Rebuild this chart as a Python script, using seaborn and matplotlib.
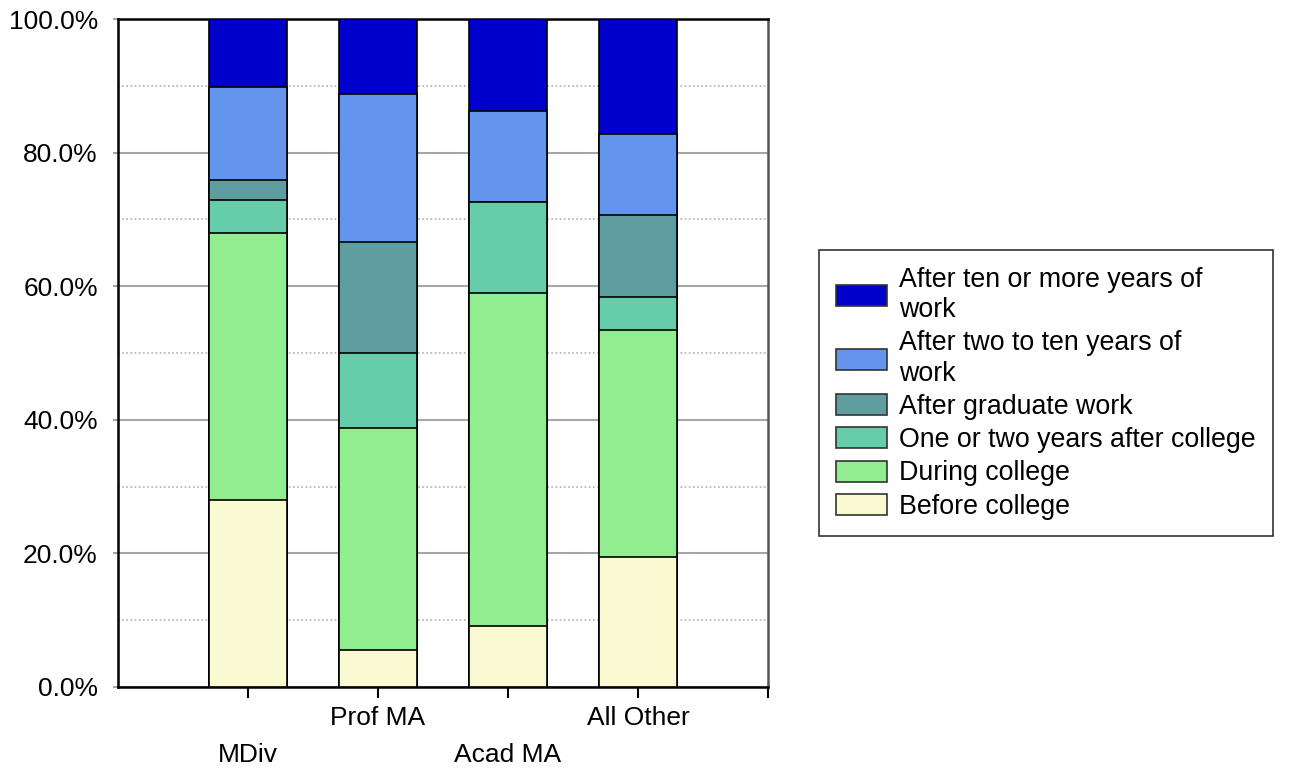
import pandas as pd
import matplotlib
matplotlib.use('Agg')
import matplotlib.pyplot as plt
import seaborn as sns
from matplotlib.patches import Patch
from matplotlib.ticker import MultipleLocator, PercentFormatter
from matplotlib.transforms import ScaledTranslation


# =========================================================
# DATA
# =========================================================

programs = ['MDiv', 'Prof MA', 'Acad MA', 'All Other']

before_college = [28.0, 5.5, 9.1, 19.5]
during_college = [40.0, 33.3, 49.9, 33.9]
one_two_after = [4.9, 11.2, 13.6, 5.0]
after_graduate = [3.0, 16.6, 0.0, 12.3]
two_to_ten = [13.9, 22.2, 13.6, 12.1]
ten_or_more = [10.2, 11.2, 13.8, 17.2]

segment_names = [
    'Before college',
    'During college',
    'One or two years after college',
    'After graduate work',
    'After two to ten years of\nwork',
    'After ten or more years of\nwork',
]

segment_values = [
    before_college,
    during_college,
    one_two_after,
    after_graduate,
    two_to_ten,
    ten_or_more,
]

segment_colors = [
    '#FAFAD2',
    '#90EE90',
    '#66CDAA',
    '#5F9EA0',
    '#6495ED',
    '#0000CD',
]


# =========================================================
# PLOT
# =========================================================

sns.set_style('white')
plt.rcParams['font.family'] = ['Liberation Sans', 'DejaVu Sans']
plt.rcParams['text.color'] = 'black'
plt.rcParams['xtick.labelcolor'] = 'black'
plt.rcParams['ytick.labelcolor'] = 'black'

FONT_SIZE = 19

fig = plt.figure(figsize=(13, 7.7), dpi=100)
ax = fig.add_axes([0.0908, 0.1078, 0.5, 0.8675])

df = pd.DataFrame(segment_values, index=segment_names, columns=programs).T
cumulative = df.cumsum(axis=1)

# draw tallest stack first so each shorter one sits on top of it
for name, color in reversed(list(zip(segment_names, segment_colors))):
    sns.barplot(
        x=programs,
        y=cumulative[name].values,
        color=color,
        edgecolor='black',
        linewidth=1.2,
        width=0.6,
        saturation=1,
        ax=ax,
        zorder=3,
    )

ax.set_xlim(-1, 4)
ax.set_ylim(0, 100)

ax.yaxis.set_major_locator(MultipleLocator(20))
ax.yaxis.set_minor_locator(MultipleLocator(10))
ax.yaxis.set_major_formatter(PercentFormatter(decimals=1))
ax.grid(axis='y', which='major', color='#A6A6A6', linewidth=1.5, zorder=0)
ax.grid(axis='y', which='minor', color='#B0B0B0', linewidth=1.2,
        linestyle=(0, (1, 1.5)), zorder=0)
ax.set_axisbelow(True)

ax.set_xticks([0, 1, 2, 3, 4])
ax.set_xticklabels(programs + [''])
ax.tick_params(axis='x', which='major', length=8, width=1.5,
               color='black', bottom=True, labelsize=FONT_SIZE, pad=5.5)
ax.tick_params(axis='y', which='major', length=3.6, width=1.5,
               color='#A6A6A6', left=True, labelsize=FONT_SIZE, pad=11)
ax.tick_params(axis='y', which='minor', left=False)

# stagger the category labels like the original
shift = ScaledTranslation(0, -0.37, fig.dpi_scale_trans)
for i, label in enumerate(ax.get_xticklabels()):
    if i in (0, 2):
        label.set_transform(label.get_transform() + shift)

for side in ['left', 'bottom', 'top']:
    ax.spines[side].set_color('black')
    ax.spines[side].set_linewidth(1.8)
ax.spines['right'].set_color('#555555')
ax.spines['right'].set_linewidth(1.8)

ax.set_xlabel('')
ax.set_ylabel('')

handles = [
    Patch(facecolor=c, edgecolor='#333333', linewidth=1.2)
    for c in segment_colors
]
leg = fig.legend(
    handles[::-1],
    segment_names[::-1],
    loc='upper left',
    bbox_to_anchor=(819 / 1300, 1 - 250 / 770),
    fontsize=19.3,
    frameon=True,
    fancybox=False,
    edgecolor='black',
    handlelength=1.93,
    handleheight=0.83,
    handletextpad=0.45,
    borderpad=0.62,
    labelspacing=0.27,
    borderaxespad=0,
)
leg.get_frame().set_linewidth(1.2)
for text in leg.get_texts():
    text.set_linespacing(1.22)

plt.savefig('out.png', dpi=100)
